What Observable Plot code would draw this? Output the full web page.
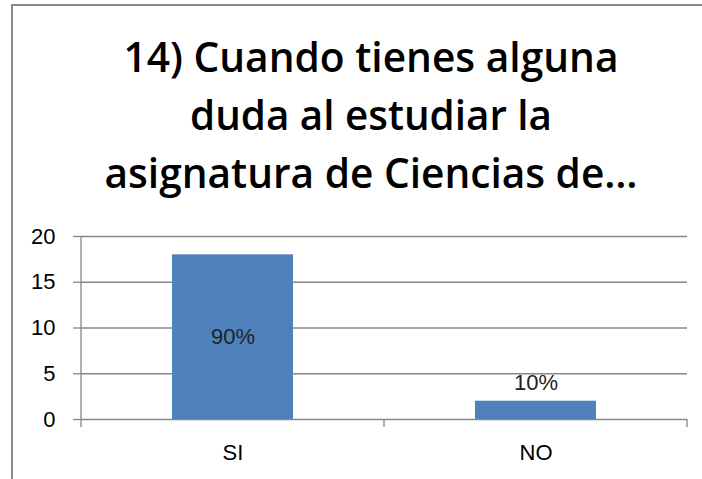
<!DOCTYPE html>
<html>
<head>
<meta charset="utf-8">
<script src="https://cdn.jsdelivr.net/npm/d3@7"></script>
<script src="https://cdn.jsdelivr.net/npm/@observablehq/plot@0.6"></script>
<style>
  html, body { margin: 0; padding: 0; background: #fff; }
  #wrap { position: relative; width: 702px; height: 479px; overflow: hidden; background: #fff; }
  #frame { position: absolute; left: 11px; top: 4px; width: 800px; height: 600px;
           border-left: 2px solid #8a8a8a; border-top: 2px solid #8a8a8a; }
  #title { position: absolute; left: 0; top: 0; }
  #chart { position: absolute; left: 0; top: 200px; }
</style>
</head>
<body>
<div id="wrap">
  <div id="frame"></div>
  <svg id="title" width="702" height="200"></svg>
  <div id="chart"></div>
</div>
<script>
// ---- data ----
const titleLines = ["14) Cuando tienes alguna", "duda al estudiar la", "asignatura de Ciencias de…"];
const categories = ["SI", "NO"];
const values = [18, 2];
const percentLabels = ["90%", "10%"];
const yTicks = [0, 5, 10, 15, 20];

const data = categories.map((c, i) => ({cat: c, value: values[i], label: percentLabels[i]}));

// ---- title ----
const titleWidths = [495, 362, 533];
const titleBaselines = [72, 130, 188];
const tsvg = d3.select("#title");
titleLines.forEach((t, i) => {
  tsvg.append("text")
    .attr("x", 371).attr("y", titleBaselines[i])
    .attr("text-anchor", "middle")
    .attr("font-family", "'Open Sans', sans-serif")
    .attr("font-weight", 600)
    .attr("font-size", 42)
    .attr("fill", "#000")
    .attr("textLength", titleWidths[i])
    .attr("lengthAdjust", "spacingAndGlyphs")
    .text(t);
});

// ---- chart ----
const gridColor = "#878787";
const fontFamily = "'Liberation Sans', Arial, sans-serif";

function boundaryTicks(index, scales) {
  const x = scales.x, y = scales.y;
  const dom = typeof x.domain === "function" ? x.domain() : categories;
  const bw = x.bandwidth();
  const step = typeof x.step === "function" ? x.step() : bw / 0.4;
  const edges = dom.map(d => x(d) - (step - bw) / 2);
  edges.push(edges[edges.length - 1] + step);
  const y0 = y(0), yTop = y(d3.max(yTicks));
  const g = d3.create("svg:g").attr("stroke", gridColor).attr("stroke-width", 1.3);
  g.append("line").attr("x1", edges[0]).attr("x2", edges[0]).attr("y1", yTop).attr("y2", y0);
  edges.forEach(e => {
    g.append("line").attr("x1", e).attr("x2", e).attr("y1", y0).attr("y2", y0 + 8);
  });
  return g.node();
}

const plot = Plot.plot({
  width: 702,
  height: 279,
  marginLeft: 81,
  marginRight: 15,
  marginTop: 36,
  marginBottom: 60,
  style: {background: "transparent", fontFamily: fontFamily, fontSize: "22px", color: "#000"},
  x: {type: "band", domain: categories, paddingInner: 0.6, paddingOuter: 0.3, axis: null, label: null},
  y: {domain: [0, 20], axis: null, label: null},
  marks: [
    Plot.gridY(yTicks, {stroke: gridColor, strokeOpacity: 1, strokeWidth: 1.3}),
    Plot.axisY(yTicks, {tickSize: 8, tickPadding: 18, stroke: gridColor, strokeWidth: 1.3, strokeOpacity: 1, fill: "#000", fontSize: 22, tickFormat: d => String(d), label: null}),
    Plot.barY(data, {x: "cat", y: "value", fill: "#4f81bd"}),
    boundaryTicks,
    Plot.axisX(categories, {tickSize: 0, tickPadding: 25, fill: "#000", fontSize: 22, label: null}),
    Plot.text(data.filter(d => d.value >= 10), {x: "cat", y: d => d.value / 2, text: "label", fontSize: 22, fill: "#222"}),
    Plot.text(data.filter(d => d.value < 10), {x: "cat", y: "value", text: "label", fontSize: 22, fill: "#222", dy: -18})
  ]
});
document.getElementById("chart").appendChild(plot);
</script>
</body>
</html>
